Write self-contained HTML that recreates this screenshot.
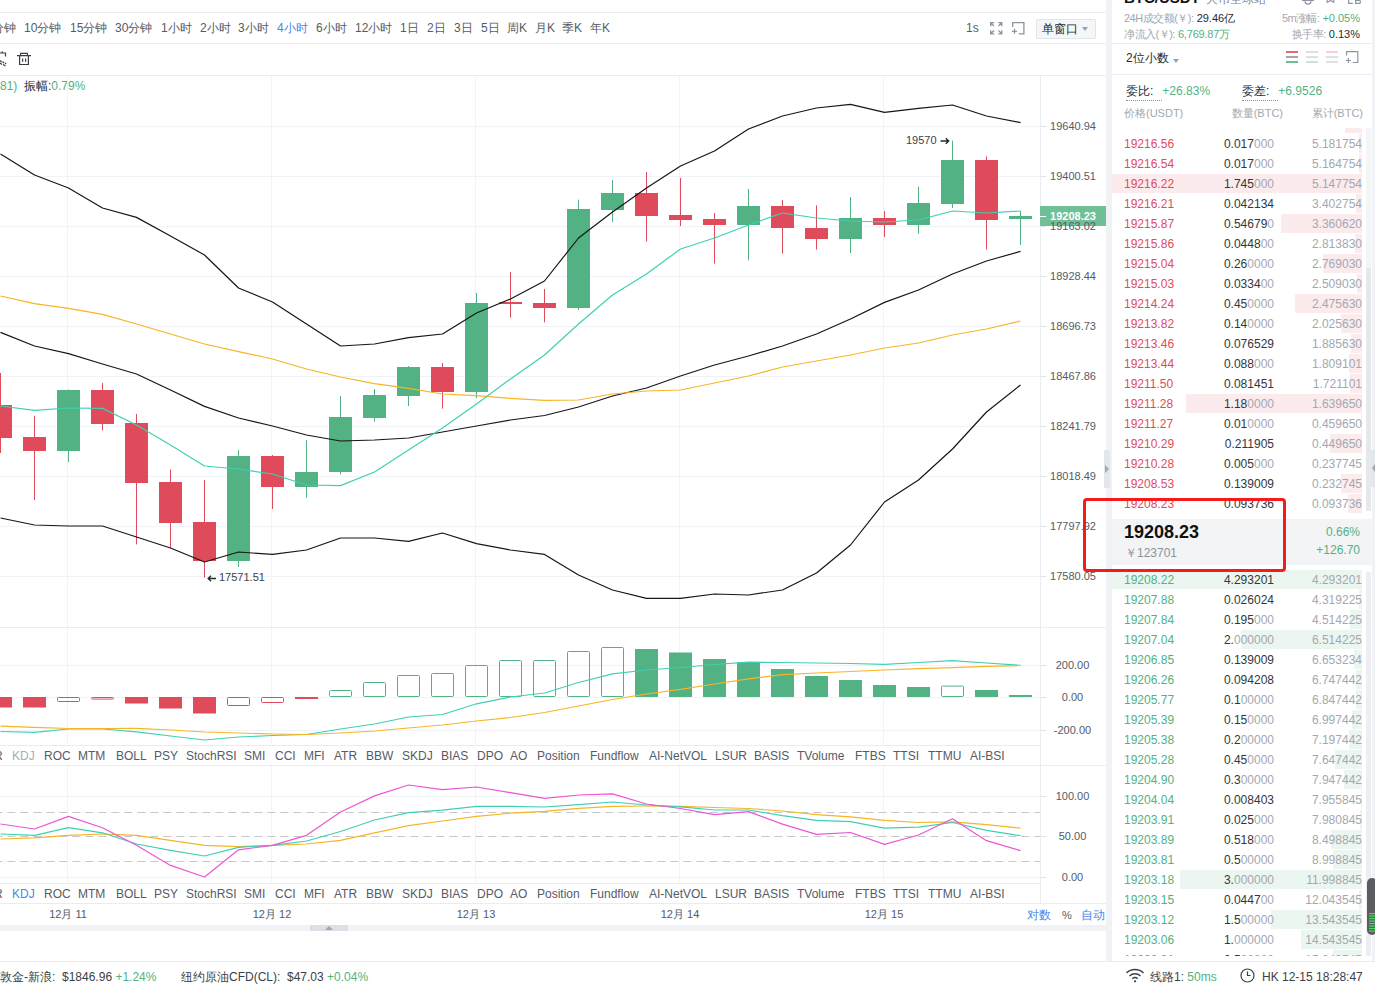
<!DOCTYPE html>
<html><head><meta charset="utf-8"><style>
*{margin:0;padding:0;box-sizing:border-box}
html,body{width:1375px;height:989px;overflow:hidden;background:#fff;font-family:'Liberation Sans', sans-serif;color:#333}
.abs{position:absolute}
.hl{position:absolute;height:1px;background:#e9ecf0}
.vl{position:absolute;width:1px;background:#e9ecf0}
.t{position:absolute;font-size:12px;line-height:14px;color:#555b66;white-space:nowrap}
.tab{position:absolute;font-size:12px;line-height:14px;color:#555b66;white-space:nowrap}
.yl{position:absolute;left:1050px;width:46px;text-align:right;font-size:11px;line-height:14px;color:#555b66}
.yl2{position:absolute;left:1047px;width:51px;text-align:center;font-size:11px;line-height:14px;color:#555b66}
.tick{position:absolute;left:1041px;width:5px;height:1px;background:#dfe2e6}
.dl{position:absolute;top:907px;width:80px;text-align:center;font-size:11px;line-height:14px;color:#555b66}
.row{position:absolute;left:1112px;width:260px;height:20px;font-size:12px;line-height:22px}
.row span{position:absolute;top:0}
.pr{left:12px}
.red{color:#e04b5b} .grn{color:#52b283}
.qt{right:98px;color:#33373d}
.qt i{font-style:normal;color:#a3a8b0}
.cu{right:10px;color:#a3a8b0}
.bar{position:absolute;right:13px;height:19px}
.ba{background:#fcebed}
.bb{background:#ebf6f0}
</style></head><body>
<!-- left chart -->
<div class="hl" style="left:0;top:12px;width:1106px"></div>
<div class="t" style="left:-8px;top:21px;">分钟</div>
<div class="t" style="left:24px;top:21px;">10分钟</div>
<div class="t" style="left:70px;top:21px;">15分钟</div>
<div class="t" style="left:115px;top:21px;">30分钟</div>
<div class="t" style="left:161px;top:21px;">1小时</div>
<div class="t" style="left:200px;top:21px;">2小时</div>
<div class="t" style="left:238px;top:21px;">3小时</div>
<div class="t" style="left:277px;top:21px;color:#4a88e8;">4小时</div>
<div class="t" style="left:316px;top:21px;">6小时</div>
<div class="t" style="left:355px;top:21px;">12小时</div>
<div class="t" style="left:400px;top:21px;">1日</div>
<div class="t" style="left:427px;top:21px;">2日</div>
<div class="t" style="left:454px;top:21px;">3日</div>
<div class="t" style="left:481px;top:21px;">5日</div>
<div class="t" style="left:507px;top:21px;">周K</div>
<div class="t" style="left:535px;top:21px;">月K</div>
<div class="t" style="left:562px;top:21px;">季K</div>
<div class="t" style="left:590px;top:21px;">年K</div>
<div class="t" style="left:966px;top:21px">1s</div>
<svg class="abs" style="left:990px;top:22px" width="13" height="13" viewBox="0 0 13 13" fill="none" stroke="#8d95a3" stroke-width="1.3"><path d="M0.7 4.2V0.7h3.5M0.7 0.7l3.3 3.3M8.3 0.7h3.5v3.5M11.8 0.7l-3.3 3.3M0.7 8.3v3.5h3.5M0.7 11.8l3.3-3.3M8.3 11.8h3.5V8.3M11.8 11.8l-3.3-3.3"/></svg>
<svg class="abs" style="left:1012px;top:22px" width="14" height="14" viewBox="0 0 14 14" fill="none" stroke="#8d95a3" stroke-width="1.3"><path d="M0.7 5V0.7h11.2v11.2H6.8M0 9.3h5M2.5 6.8v5"/></svg>
<div class="abs" style="left:1036px;top:19px;width:60px;height:20px;border:1px solid #e1e4e8;background:#f5f6f8;border-radius:2px"></div>
<div class="t" style="left:1042px;top:22px;color:#262a30">单窗口</div>
<div class="abs" style="left:1082px;top:27px;width:0;height:0;border-left:3.5px solid transparent;border-right:3.5px solid transparent;border-top:4px solid #9aa0a8"></div>
<div class="hl" style="left:0;top:43px;width:1106px"></div>
<svg class="abs" style="left:0;top:50px" width="8" height="17" viewBox="0 0 8 17" fill="none" stroke="#3a3f47" stroke-width="1.2"><path d="M0 3h5.5v3.5M2.2 1.2v2M0 10.5l1.5 1.5M0 13l2 1.5M2.5 11.5l1.5 1.5M3 14.5l2.5 1.5M5 13l1 1"/></svg>
<svg class="abs" style="left:16px;top:52px" width="16" height="16" viewBox="0 0 16 16" fill="none" stroke="#3a3f47" stroke-width="1.2"><path d="M1 3.6h14M4.6 3.6V1.3h6.8v2.3M3.6 3.6v8.9h8.8V3.6M6.6 6.5v3.3M9.6 6.5v3.3"/></svg>
<div class="hl" style="left:0;top:75px;width:1106px"></div>
<div class="t" style="left:0;top:79px;color:#262a30"><span style="color:#52b283">81)</span>&nbsp; 振幅:<span style="color:#52b283">0.79%</span></div>

<svg class="abs" style="left:0;top:0" width="1106" height="989">
<rect x="0" y="126" width="1040" height="1" fill="#f0f3f7"/>
<rect x="0" y="176" width="1040" height="1" fill="#f0f3f7"/>
<rect x="0" y="226" width="1040" height="1" fill="#f0f3f7"/>
<rect x="0" y="276" width="1040" height="1" fill="#f0f3f7"/>
<rect x="0" y="326" width="1040" height="1" fill="#f0f3f7"/>
<rect x="0" y="376" width="1040" height="1" fill="#f0f3f7"/>
<rect x="0" y="426" width="1040" height="1" fill="#f0f3f7"/>
<rect x="0" y="476" width="1040" height="1" fill="#f0f3f7"/>
<rect x="0" y="526" width="1040" height="1" fill="#f0f3f7"/>
<rect x="0" y="576" width="1040" height="1" fill="#f0f3f7"/>
<rect x="67" y="76" width="1" height="551" fill="#f0f3f7"/>
<rect x="67" y="628" width="1" height="116" fill="#f0f3f7"/>
<rect x="67" y="765" width="1" height="117" fill="#f0f3f7"/>
<rect x="271" y="76" width="1" height="551" fill="#f0f3f7"/>
<rect x="271" y="628" width="1" height="116" fill="#f0f3f7"/>
<rect x="271" y="765" width="1" height="117" fill="#f0f3f7"/>
<rect x="475" y="76" width="1" height="551" fill="#f0f3f7"/>
<rect x="475" y="628" width="1" height="116" fill="#f0f3f7"/>
<rect x="475" y="765" width="1" height="117" fill="#f0f3f7"/>
<rect x="679" y="76" width="1" height="551" fill="#f0f3f7"/>
<rect x="679" y="628" width="1" height="116" fill="#f0f3f7"/>
<rect x="679" y="765" width="1" height="117" fill="#f0f3f7"/>
<rect x="883" y="76" width="1" height="551" fill="#f0f3f7"/>
<rect x="883" y="628" width="1" height="116" fill="#f0f3f7"/>
<rect x="883" y="765" width="1" height="117" fill="#f0f3f7"/>
<rect x="0" y="665" width="1040" height="1" fill="#f0f3f7"/>
<rect x="0" y="697" width="1040" height="1" fill="#f0f3f7"/>
<rect x="0" y="730" width="1040" height="1" fill="#f0f3f7"/>
<rect x="0" y="796" width="1040" height="1" fill="#f0f3f7"/>
<rect x="0" y="877" width="1040" height="1" fill="#f0f3f7"/>
<line x1="0" y1="812.5" x2="1040" y2="812.5" stroke="#c6c8cb" stroke-width="1" stroke-dasharray="8,5" stroke-dashoffset="5.6"/>
<line x1="0" y1="836.5" x2="1040" y2="836.5" stroke="#c6c8cb" stroke-width="1" stroke-dasharray="8,5" stroke-dashoffset="5.6"/>
<line x1="0" y1="861.5" x2="1040" y2="861.5" stroke="#c6c8cb" stroke-width="1" stroke-dasharray="8,5" stroke-dashoffset="5.6"/>
<rect x="0" y="373.0" width="1" height="80.0" fill="#e04b5b"/>
<rect x="-11" y="405" width="23" height="33" fill="#e04b5b"/>
<rect x="34" y="415.8" width="1" height="84.2" fill="#e04b5b"/>
<rect x="23" y="437" width="23" height="14" fill="#e04b5b"/>
<rect x="68" y="389.4" width="1" height="72.6" fill="#52b283"/>
<rect x="57" y="390" width="23" height="61" fill="#52b283"/>
<rect x="102" y="383.0" width="1" height="47.4" fill="#e04b5b"/>
<rect x="91" y="390" width="23" height="34" fill="#e04b5b"/>
<rect x="136" y="414.0" width="1" height="130.4" fill="#e04b5b"/>
<rect x="125" y="423" width="23" height="60" fill="#e04b5b"/>
<rect x="170" y="469.6" width="1" height="78.4" fill="#e04b5b"/>
<rect x="159" y="482" width="23" height="41" fill="#e04b5b"/>
<rect x="204" y="480.0" width="1" height="97.6" fill="#e04b5b"/>
<rect x="193" y="522" width="23" height="39" fill="#e04b5b"/>
<rect x="238" y="450.0" width="1" height="117.0" fill="#52b283"/>
<rect x="227" y="456" width="23" height="105" fill="#52b283"/>
<rect x="272" y="455.0" width="1" height="54.0" fill="#e04b5b"/>
<rect x="261" y="456" width="23" height="31" fill="#e04b5b"/>
<rect x="306" y="440.0" width="1" height="57.6" fill="#52b283"/>
<rect x="295" y="472" width="23" height="15" fill="#52b283"/>
<rect x="340" y="396.0" width="1" height="78.4" fill="#52b283"/>
<rect x="329" y="417" width="23" height="55" fill="#52b283"/>
<rect x="374" y="389.0" width="1" height="32.6" fill="#52b283"/>
<rect x="363" y="395" width="23" height="23" fill="#52b283"/>
<rect x="408" y="366.0" width="1" height="40.0" fill="#52b283"/>
<rect x="397" y="367" width="23" height="29" fill="#52b283"/>
<rect x="442" y="363.0" width="1" height="45.6" fill="#e04b5b"/>
<rect x="431" y="367" width="23" height="25" fill="#e04b5b"/>
<rect x="476" y="293.0" width="1" height="105.0" fill="#52b283"/>
<rect x="465" y="303" width="23" height="89" fill="#52b283"/>
<rect x="510" y="272.0" width="1" height="45.6" fill="#e04b5b"/>
<rect x="499" y="302" width="23" height="2" fill="#e04b5b"/>
<rect x="544" y="289.0" width="1" height="33.4" fill="#e04b5b"/>
<rect x="533" y="303" width="23" height="5" fill="#e04b5b"/>
<rect x="578" y="199.6" width="1" height="110.4" fill="#52b283"/>
<rect x="567" y="209" width="23" height="99" fill="#52b283"/>
<rect x="612" y="180.0" width="1" height="42.0" fill="#52b283"/>
<rect x="601" y="193" width="23" height="17" fill="#52b283"/>
<rect x="646" y="172.0" width="1" height="69.6" fill="#e04b5b"/>
<rect x="635" y="193" width="23" height="23" fill="#e04b5b"/>
<rect x="680" y="178.0" width="1" height="48.0" fill="#e04b5b"/>
<rect x="669" y="215" width="23" height="5" fill="#e04b5b"/>
<rect x="714" y="213.0" width="1" height="50.6" fill="#e04b5b"/>
<rect x="703" y="219" width="23" height="6" fill="#e04b5b"/>
<rect x="748" y="189.0" width="1" height="71.4" fill="#52b283"/>
<rect x="737" y="206" width="23" height="19" fill="#52b283"/>
<rect x="782" y="200.0" width="1" height="53.6" fill="#e04b5b"/>
<rect x="771" y="206" width="23" height="22" fill="#e04b5b"/>
<rect x="816" y="205.4" width="1" height="44.2" fill="#e04b5b"/>
<rect x="805" y="228" width="23" height="11" fill="#e04b5b"/>
<rect x="850" y="197.0" width="1" height="56.0" fill="#52b283"/>
<rect x="839" y="218" width="23" height="21" fill="#52b283"/>
<rect x="884" y="211.0" width="1" height="26.0" fill="#e04b5b"/>
<rect x="873" y="218" width="23" height="7" fill="#e04b5b"/>
<rect x="918" y="186.6" width="1" height="47.0" fill="#52b283"/>
<rect x="907" y="203" width="23" height="22" fill="#52b283"/>
<rect x="952" y="140.6" width="1" height="67.4" fill="#52b283"/>
<rect x="941" y="160" width="23" height="44" fill="#52b283"/>
<rect x="986" y="156.4" width="1" height="93.2" fill="#e04b5b"/>
<rect x="975" y="160" width="23" height="60" fill="#e04b5b"/>
<rect x="1020" y="211.0" width="1" height="34.0" fill="#52b283"/>
<rect x="1009" y="216" width="23" height="3" fill="#52b283"/>
<polyline points="0.5,518.0 34.5,525.0 68.5,526.0 102.5,526.0 136.5,537.0 170.5,548.0 204.5,562.0 238.5,552.0 272.5,554.4 306.5,550.0 340.5,538.0 374.5,538.0 408.5,541.4 442.5,533.0 476.5,543.6 510.5,550.0 544.5,554.4 578.5,575.0 612.5,590.0 646.5,598.4 680.5,598.4 714.5,594.0 748.5,595.0 782.5,590.0 816.5,573.0 850.5,545.0 884.5,502.0 918.5,480.0 952.5,449.0 986.5,412.0 1020.5,385.0" fill="none" stroke="#161616" stroke-width="1.2" stroke-linejoin="round"/>
<polyline points="0.5,332.4 34.5,346.0 68.5,353.6 102.5,364.0 136.5,374.0 170.5,390.0 204.5,406.4 238.5,418.0 272.5,426.0 306.5,435.0 340.5,441.0 374.5,440.0 408.5,438.0 442.5,432.0 476.5,426.0 510.5,420.0 544.5,415.5 578.5,407.0 612.5,396.0 646.5,388.0 680.5,376.0 714.5,365.0 748.5,356.0 782.5,346.0 816.5,334.0 850.5,319.0 884.5,302.4 918.5,290.0 952.5,274.0 986.5,261.0 1020.5,251.4" fill="none" stroke="#161616" stroke-width="1.2" stroke-linejoin="round"/>
<polyline points="0.5,154.0 34.5,175.0 68.5,188.0 102.5,208.0 136.5,217.4 170.5,236.0 204.5,255.0 238.5,288.0 272.5,302.0 306.5,324.0 340.5,346.0 374.5,344.0 408.5,337.6 442.5,334.0 476.5,313.0 510.5,299.0 544.5,281.0 578.5,238.0 612.5,212.0 646.5,188.0 680.5,166.0 714.5,151.0 748.5,129.0 782.5,116.0 816.5,108.0 850.5,104.4 884.5,112.4 918.5,108.4 952.5,105.0 986.5,116.0 1020.5,122.6" fill="none" stroke="#161616" stroke-width="1.2" stroke-linejoin="round"/>
<polyline points="0.5,296.0 34.5,303.6 68.5,308.4 102.5,314.4 136.5,324.0 170.5,334.0 204.5,344.0 238.5,351.6 272.5,359.0 306.5,369.0 340.5,377.0 374.5,383.6 408.5,388.4 442.5,394.0 476.5,395.6 510.5,398.4 544.5,400.4 578.5,400.0 612.5,394.0 646.5,391.0 680.5,390.0 714.5,383.0 748.5,376.0 782.5,367.0 816.5,361.0 850.5,355.0 884.5,348.0 918.5,343.0 952.5,335.0 986.5,329.0 1020.5,321.0" fill="none" stroke="#f7b526" stroke-width="1.2" stroke-linejoin="round"/>
<polyline points="0.5,406.0 34.5,410.4 68.5,408.0 102.5,408.4 136.5,425.0 170.5,445.0 204.5,466.0 238.5,469.0 272.5,474.0 306.5,485.0 340.5,485.6 374.5,472.0 408.5,450.0 442.5,428.0 476.5,404.0 510.5,379.0 544.5,355.0 578.5,324.0 612.5,295.0 646.5,274.0 680.5,249.0 714.5,238.0 748.5,225.0 782.5,213.0 816.5,218.0 850.5,221.0 884.5,222.0 918.5,220.0 952.5,211.0 986.5,213.0 1020.5,211.0" fill="none" stroke="#3fd0b3" stroke-width="1.2" stroke-linejoin="round"/>
<rect x="-11" y="697.0" width="23" height="10.5" fill="#e04b5b"/>
<rect x="23" y="697.0" width="23" height="10.5" fill="#e04b5b"/>
<rect x="57.5" y="697.5" width="22" height="4.0" rx="1" fill="none" stroke="#e04b5b" stroke-width="1"/>
<rect x="91.5" y="697.5" width="22" height="1.6" rx="1" fill="none" stroke="#e04b5b" stroke-width="1"/>
<rect x="125" y="697.0" width="23" height="6.5" fill="#e04b5b"/>
<rect x="159" y="697.0" width="23" height="11.5" fill="#e04b5b"/>
<rect x="193" y="697.0" width="23" height="16.5" fill="#e04b5b"/>
<rect x="227.5" y="697.5" width="22" height="8.0" rx="1" fill="none" stroke="#e04b5b" stroke-width="1"/>
<rect x="261.5" y="697.5" width="22" height="5.0" rx="1" fill="none" stroke="#e04b5b" stroke-width="1"/>
<rect x="295" y="697.0" width="23" height="2.0" fill="#e04b5b"/>
<rect x="329.5" y="690.5" width="22" height="6.0" rx="1" fill="none" stroke="#52b283" stroke-width="1"/>
<rect x="363.5" y="682.5" width="22" height="14.0" rx="1" fill="none" stroke="#52b283" stroke-width="1"/>
<rect x="397.5" y="675.5" width="22" height="21.0" rx="1" fill="none" stroke="#52b283" stroke-width="1"/>
<rect x="431.5" y="673.5" width="22" height="23.0" rx="1" fill="none" stroke="#52b283" stroke-width="1"/>
<rect x="465.5" y="665.5" width="22" height="31.0" rx="1" fill="none" stroke="#52b283" stroke-width="1"/>
<rect x="499.5" y="660.5" width="22" height="36.0" rx="1" fill="none" stroke="#52b283" stroke-width="1"/>
<rect x="533.5" y="660.5" width="22" height="36.0" rx="1" fill="none" stroke="#52b283" stroke-width="1"/>
<rect x="567.5" y="651.5" width="22" height="45.0" rx="1" fill="none" stroke="#52b283" stroke-width="1"/>
<rect x="601.5" y="647.5" width="22" height="49.0" rx="1" fill="none" stroke="#52b283" stroke-width="1"/>
<rect x="635" y="649.0" width="23" height="48.0" fill="#52b283"/>
<rect x="669" y="652.5" width="23" height="44.5" fill="#52b283"/>
<rect x="703" y="659.0" width="23" height="38.0" fill="#52b283"/>
<rect x="737" y="662.0" width="23" height="35.0" fill="#52b283"/>
<rect x="771" y="669.0" width="23" height="28.0" fill="#52b283"/>
<rect x="805" y="676.0" width="23" height="21.0" fill="#52b283"/>
<rect x="839" y="680.0" width="23" height="17.0" fill="#52b283"/>
<rect x="873" y="685.0" width="23" height="12.0" fill="#52b283"/>
<rect x="907" y="687.0" width="23" height="10.0" fill="#52b283"/>
<rect x="941.5" y="686.1" width="22" height="10.4" rx="1" fill="none" stroke="#52b283" stroke-width="1"/>
<rect x="975" y="690.0" width="23" height="7.0" fill="#52b283"/>
<rect x="1009" y="695.0" width="23" height="2.0" fill="#52b283"/>
<polyline points="0.5,731.5 34.5,732.4 68.5,729.0 102.5,729.0 136.5,731.8 170.5,736.0 204.5,740.0 238.5,737.0 272.5,735.5 306.5,734.5 340.5,729.0 374.5,724.0 408.5,717.0 442.5,714.5 476.5,703.8 510.5,697.0 544.5,693.0 578.5,682.5 612.5,673.8 646.5,670.0 680.5,667.5 714.5,664.5 748.5,662.2 782.5,662.5 816.5,663.0 850.5,663.5 884.5,664.4 918.5,662.5 952.5,660.6 986.5,663.0 1020.5,665.3" fill="none" stroke="#3fd0b3" stroke-width="1.2" stroke-linejoin="round"/>
<polyline points="0.5,726.2 34.5,727.3 68.5,728.5 102.5,728.5 136.5,728.3 170.5,730.0 204.5,732.0 238.5,733.0 272.5,734.0 306.5,734.5 340.5,733.0 374.5,731.0 408.5,728.0 442.5,725.0 476.5,721.0 510.5,717.5 544.5,712.5 578.5,706.0 612.5,699.5 646.5,694.0 680.5,689.4 714.5,684.0 748.5,678.8 782.5,674.7 816.5,673.0 850.5,671.5 884.5,670.0 918.5,668.7 952.5,667.6 986.5,666.4 1020.5,665.5" fill="none" stroke="#f7b526" stroke-width="1.2" stroke-linejoin="round"/>
<polyline points="0.5,839.0 34.5,837.8 68.5,835.3 102.5,834.0 136.5,835.3 170.5,840.3 204.5,845.3 238.5,846.6 272.5,845.3 306.5,844.0 340.5,840.3 374.5,832.8 408.5,825.7 442.5,821.0 476.5,816.4 510.5,813.2 544.5,811.4 578.5,808.4 612.5,806.4 646.5,806.0 680.5,806.3 714.5,807.5 748.5,808.5 782.5,811.0 816.5,814.7 850.5,816.9 884.5,820.4 918.5,822.5 952.5,821.9 986.5,824.7 1020.5,828.2" fill="none" stroke="#f7b526" stroke-width="1.2" stroke-linejoin="round"/>
<polyline points="0.5,834.0 34.5,835.3 68.5,827.7 102.5,832.8 136.5,844.0 170.5,850.3 204.5,856.0 238.5,847.3 272.5,845.3 306.5,841.0 340.5,831.5 374.5,820.0 408.5,812.7 442.5,810.2 476.5,806.4 510.5,806.4 544.5,807.0 578.5,804.6 612.5,802.0 646.5,805.0 680.5,806.9 714.5,810.0 748.5,810.0 782.5,815.7 816.5,820.3 850.5,821.6 884.5,828.2 918.5,827.2 952.5,822.5 986.5,830.4 1020.5,835.7" fill="none" stroke="#3fd0b3" stroke-width="1.2" stroke-linejoin="round"/>
<polyline points="0.5,824.0 34.5,829.0 68.5,816.4 102.5,827.7 136.5,845.3 170.5,865.4 204.5,877.0 238.5,849.8 272.5,845.3 306.5,835.3 340.5,812.0 374.5,795.9 408.5,785.0 442.5,789.6 476.5,787.0 510.5,792.6 544.5,798.4 578.5,795.0 612.5,793.9 646.5,804.0 680.5,808.5 714.5,814.7 748.5,811.6 782.5,824.1 816.5,834.4 850.5,832.5 884.5,844.4 918.5,835.0 952.5,818.8 986.5,840.7 1020.5,850.7" fill="none" stroke="#ec55d3" stroke-width="1.2" stroke-linejoin="round"/>
</svg>
<!-- annotations -->
<div class="abs" style="left:219px;top:570px;font-size:11px;line-height:14px;color:#3d4249;white-space:nowrap">17571.51</div>
<svg class="abs" style="left:207px;top:575px" width="10" height="8" viewBox="0 0 10 8" fill="none" stroke="#23272e" stroke-width="1.4"><path d="M1 3.5h8M4 0.8L1.2 3.5L4 6.2"/></svg>
<div class="abs" style="left:906px;top:133px;font-size:11px;line-height:14px;color:#3d4249;white-space:nowrap">19570</div>
<svg class="abs" style="left:940px;top:137px" width="10" height="8" viewBox="0 0 10 8" fill="none" stroke="#23272e" stroke-width="1.4"><path d="M0.5 4h8M5.8 1.3L8.6 4L5.8 6.7"/></svg>

<div class="vl" style="left:1040px;top:76px;height:827px"></div>
<div class="abs" style="left:1040px;top:206px;width:66px;height:20px;background:#6fbf97"></div>
<div class="abs" style="left:1040px;top:216px;width:6px;height:1px;background:#fff"></div>
<div class="abs" style="z-index:2;left:1040px;top:209px;width:66px;text-align:right;padding-right:10px;font-size:11px;line-height:14px;color:#fff;font-weight:bold">19208.23</div>
<div class="yl" style="top:119px">19640.94</div><div class="tick" style="top:126px"></div>
<div class="yl" style="top:169px">19400.51</div><div class="tick" style="top:176px"></div>
<div class="yl" style="top:219px">19163.02</div><div class="tick" style="top:226px"></div>
<div class="yl" style="top:269px">18928.44</div><div class="tick" style="top:276px"></div>
<div class="yl" style="top:319px">18696.73</div><div class="tick" style="top:326px"></div>
<div class="yl" style="top:369px">18467.86</div><div class="tick" style="top:376px"></div>
<div class="yl" style="top:419px">18241.79</div><div class="tick" style="top:426px"></div>
<div class="yl" style="top:469px">18018.49</div><div class="tick" style="top:476px"></div>
<div class="yl" style="top:519px">17797.92</div><div class="tick" style="top:526px"></div>
<div class="yl" style="top:569px">17580.05</div><div class="tick" style="top:576px"></div>

<div class="hl" style="left:0;top:627px;width:1106px"></div>
<div class="yl2" style="top:658px">200.00</div><div class="tick" style="top:665px"></div>
<div class="yl2" style="top:690px">0.00</div><div class="tick" style="top:697px"></div>
<div class="yl2" style="top:723px">-200.00</div><div class="tick" style="top:730px"></div>
<div class="hl" style="left:0;top:745px;width:1040px"></div>
<div class="tab" style="left:-6px;top:749px;">R</div>
<div class="tab" style="left:12px;top:749px;color:#a8adb5;">KDJ</div>
<div class="tab" style="left:44px;top:749px;">ROC</div>
<div class="tab" style="left:78px;top:749px;">MTM</div>
<div class="tab" style="left:116px;top:749px;">BOLL</div>
<div class="tab" style="left:154px;top:749px;">PSY</div>
<div class="tab" style="left:186px;top:749px;">StochRSI</div>
<div class="tab" style="left:244px;top:749px;">SMI</div>
<div class="tab" style="left:275px;top:749px;">CCI</div>
<div class="tab" style="left:304px;top:749px;">MFI</div>
<div class="tab" style="left:334px;top:749px;">ATR</div>
<div class="tab" style="left:366px;top:749px;">BBW</div>
<div class="tab" style="left:402px;top:749px;">SKDJ</div>
<div class="tab" style="left:441px;top:749px;">BIAS</div>
<div class="tab" style="left:477px;top:749px;">DPO</div>
<div class="tab" style="left:510px;top:749px;">AO</div>
<div class="tab" style="left:537px;top:749px;">Position</div>
<div class="tab" style="left:590px;top:749px;">Fundflow</div>
<div class="tab" style="left:649px;top:749px;">AI-NetVOL</div>
<div class="tab" style="left:715px;top:749px;">LSUR</div>
<div class="tab" style="left:754px;top:749px;">BASIS</div>
<div class="tab" style="left:797px;top:749px;">TVolume</div>
<div class="tab" style="left:855px;top:749px;">FTBS</div>
<div class="tab" style="left:893px;top:749px;">TTSI</div>
<div class="tab" style="left:928px;top:749px;">TTMU</div>
<div class="tab" style="left:970px;top:749px;">AI-BSI</div>
<div class="hl" style="left:0;top:765px;width:1106px"></div>
<div class="yl2" style="top:789px">100.00</div><div class="tick" style="top:796px"></div>
<div class="yl2" style="top:829px">50.00</div><div class="tick" style="top:836px"></div>
<div class="yl2" style="top:870px">0.00</div><div class="tick" style="top:877px"></div>
<div class="hl" style="left:0;top:883px;width:1040px"></div>
<div class="tab" style="left:-6px;top:887px;">R</div>
<div class="tab" style="left:12px;top:887px;color:#4a88e8;">KDJ</div>
<div class="tab" style="left:44px;top:887px;">ROC</div>
<div class="tab" style="left:78px;top:887px;">MTM</div>
<div class="tab" style="left:116px;top:887px;">BOLL</div>
<div class="tab" style="left:154px;top:887px;">PSY</div>
<div class="tab" style="left:186px;top:887px;">StochRSI</div>
<div class="tab" style="left:244px;top:887px;">SMI</div>
<div class="tab" style="left:275px;top:887px;">CCI</div>
<div class="tab" style="left:304px;top:887px;">MFI</div>
<div class="tab" style="left:334px;top:887px;">ATR</div>
<div class="tab" style="left:366px;top:887px;">BBW</div>
<div class="tab" style="left:402px;top:887px;">SKDJ</div>
<div class="tab" style="left:441px;top:887px;">BIAS</div>
<div class="tab" style="left:477px;top:887px;">DPO</div>
<div class="tab" style="left:510px;top:887px;">AO</div>
<div class="tab" style="left:537px;top:887px;">Position</div>
<div class="tab" style="left:590px;top:887px;">Fundflow</div>
<div class="tab" style="left:649px;top:887px;">AI-NetVOL</div>
<div class="tab" style="left:715px;top:887px;">LSUR</div>
<div class="tab" style="left:754px;top:887px;">BASIS</div>
<div class="tab" style="left:797px;top:887px;">TVolume</div>
<div class="tab" style="left:855px;top:887px;">FTBS</div>
<div class="tab" style="left:893px;top:887px;">TTSI</div>
<div class="tab" style="left:928px;top:887px;">TTMU</div>
<div class="tab" style="left:970px;top:887px;">AI-BSI</div>
<div class="hl" style="left:0;top:903px;width:1106px"></div>
<div class="dl" style="left:28px">12月 11</div>
<div class="dl" style="left:232px">12月 12</div>
<div class="dl" style="left:436px">12月 13</div>
<div class="dl" style="left:640px">12月 14</div>
<div class="dl" style="left:844px">12月 15</div>
<div class="abs" style="left:1027px;top:908px;font-size:12px;line-height:14px;color:#4a88e8;white-space:nowrap">对数</div>
<div class="abs" style="left:1062px;top:908px;font-size:11px;line-height:14px;color:#555b66;white-space:nowrap">%</div>
<div class="abs" style="left:1081px;top:908px;font-size:12px;line-height:14px;color:#4a88e8;white-space:nowrap">自动</div>
<div class="abs" style="left:0;top:925px;width:1106px;height:6px;background:#f0f2f5"></div>
<div class="abs" style="left:310px;top:925px;width:38px;height:6px;background:#dcdfe4"></div>
<div class="abs" style="left:325px;top:926px;width:0;height:0;border-left:4px solid transparent;border-right:4px solid transparent;border-bottom:4px solid #a2a7b0"></div>
<div class="hl" style="left:0;top:961px;width:1375px"></div>
<div class="abs" style="left:0;top:970px;font-size:12px;line-height:14px;color:#3a3f47;white-space:nowrap">敦金-新浪: &nbsp;$1846.96 <span style="color:#52b283">+1.24%</span></div>
<div class="abs" style="left:181px;top:970px;font-size:12px;line-height:14px;color:#3a3f47;white-space:nowrap">纽约原油CFD(CL): &nbsp;$47.03 <span style="color:#52b283">+0.04%</span></div>

<!-- divider strip -->
<div class="abs" style="left:1106px;top:0;width:6px;height:961px;background:#f0f2f5"></div>
<div class="abs" style="left:1372px;top:0;width:3px;height:961px;background:#f0f2f5"></div>

<!-- right panel -->
<div class="abs" style="left:1124px;top:-10px;font-size:15px;line-height:15px;font-weight:bold;color:#111;white-space:nowrap">BTC/USDT <span style="font-weight:normal;color:#7d8799;font-size:12px;margin-left:2px">火币全球站</span></div>
<svg class="abs" style="left:1300px;top:0" width="62" height="6" viewBox="0 0 62 6" fill="none" stroke="#8d95a3" stroke-width="1.2"><path d="M2 0.4h12M5 1.2a3 3 0 0 0 6 0M27.2 -2v4.3l3.3-1.8l3.3 1.8V-2M48.6 -2v5.4h4.2M55.6 -2v5.4h3.4a1.5 1.5 0 0 0 0-3h-3.4"/></svg>
<div class="abs" style="left:1124px;top:11px;font-size:11px;line-height:14px;color:#a3a8b0;white-space:nowrap"><span style="letter-spacing:-0.5px">24H成交额(￥):</span> <span style="color:#262a30">29.46亿</span></div>
<div class="abs" style="left:1124px;top:27px;font-size:11px;line-height:14px;color:#a3a8b0;white-space:nowrap"><span style="letter-spacing:-0.5px">净流入(￥):</span> <span style="color:#52b283;letter-spacing:-0.2px">6,769.87万</span></div>
<div class="abs" style="left:1160px;top:11px;width:200px;text-align:right;font-size:11px;line-height:14px;color:#a3a8b0;white-space:nowrap"><span style="letter-spacing:-0.6px">5m涨幅:</span> <span style="color:#52b283">+0.05%</span></div>
<div class="abs" style="left:1160px;top:27px;width:200px;text-align:right;font-size:11px;line-height:14px;color:#a3a8b0;white-space:nowrap"><span style="letter-spacing:-0.6px">换手率:</span> <span style="color:#262a30">0.13%</span></div>
<div class="hl" style="left:1112px;top:43px;width:260px"></div>
<div class="abs" style="left:1126px;top:51px;font-size:12px;line-height:14px;color:#262a30;white-space:nowrap">2位小数</div>
<div class="abs" style="left:1173px;top:59px;width:0;height:0;border-left:3.5px solid transparent;border-right:3.5px solid transparent;border-top:4px solid #9aa0a8"></div>
<svg class="abs" style="left:1284px;top:49px" width="78" height="16">
<rect x="2" y="2" width="12" height="2" fill="#e86a78"/><rect x="2" y="7" width="12" height="2" fill="#a3a8b0"/><rect x="2" y="12" width="12" height="2" fill="#6cc093"/>
<rect x="22" y="2" width="12" height="2" fill="#dde0e4"/><rect x="22" y="7" width="12" height="2" fill="#dde0e4"/><rect x="22" y="12" width="12" height="2" fill="#c6e6d4"/>
<rect x="42" y="2" width="12" height="2" fill="#f7d0d5"/><rect x="42" y="7" width="12" height="2" fill="#dde0e4"/><rect x="42" y="12" width="12" height="2" fill="#dde0e4"/>
<path d="M62.6 6.6V2.6h11.2v10.9h-4.9M61.9 11.5h5M64.4 9v5" stroke="#8d95a3" stroke-width="1.2" fill="none"/>
</svg>
<div class="hl" style="left:1112px;top:74px;width:260px"></div>
<div class="abs" style="left:1126px;top:84px;font-size:12px;line-height:14px;color:#262a30;white-space:nowrap">委比:<span style="color:#52b283;margin-left:9px">+26.83%</span></div>
<div class="abs" style="left:1126px;top:100px;width:36px;border-top:1px dotted #8a9099"></div>
<div class="abs" style="left:1242px;top:84px;font-size:12px;line-height:14px;color:#262a30;white-space:nowrap">委差:<span style="color:#52b283;margin-left:9px">+6.9526</span></div>
<div class="abs" style="left:1242px;top:100px;width:36px;border-top:1px dotted #8a9099"></div>
<div class="abs" style="left:1124px;top:106px;font-size:11px;line-height:14px;color:#a3a8b0;white-space:nowrap">价格(USDT)</div>
<div class="abs" style="left:1200px;top:106px;width:83px;text-align:right;font-size:11px;line-height:14px;color:#a3a8b0;white-space:nowrap">数量(BTC)</div>
<div class="abs" style="left:1280px;top:106px;width:83px;text-align:right;font-size:11px;line-height:14px;color:#a3a8b0;white-space:nowrap">累计(BTC)</div>
<div class="abs" style="left:1345px;top:128px;width:17px;height:5px;background:#fcebed"></div>
<div class="abs" style="left:1112px;top:133px;width:260px;height:380px;overflow:hidden"><div class="abs" style="left:-1112px;top:-133px;width:1375px;height:989px">
<div class="bar ba" style="top:134px;width:3px"></div>
<div class="row" style="top:133px"><span class="pr red">19216.56</span><span class="qt">0.017<i>000</i></span><span class="cu">5.181754</span></div>
<div class="bar ba" style="top:154px;width:3px"></div>
<div class="row" style="top:153px"><span class="pr red">19216.54</span><span class="qt">0.017<i>000</i></span><span class="cu">5.164754</span></div>
<div class="bar ba" style="top:174px;width:250px"></div>
<div class="row" style="top:173px"><span class="pr red">19216.22</span><span class="qt">1.745<i>000</i></span><span class="cu">5.147754</span></div>
<div class="bar ba" style="top:194px;width:6px"></div>
<div class="row" style="top:193px"><span class="pr red">19216.21</span><span class="qt">0.042134<i></i></span><span class="cu">3.402754</span></div>
<div class="bar ba" style="top:214px;width:81px"></div>
<div class="row" style="top:213px"><span class="pr red">19215.87</span><span class="qt">0.54679<i>0</i></span><span class="cu">3.360620</span></div>
<div class="bar ba" style="top:234px;width:7px"></div>
<div class="row" style="top:233px"><span class="pr red">19215.86</span><span class="qt">0.0448<i>00</i></span><span class="cu">2.813830</span></div>
<div class="bar ba" style="top:254px;width:39px"></div>
<div class="row" style="top:253px"><span class="pr red">19215.04</span><span class="qt">0.26<i>0000</i></span><span class="cu">2.769030</span></div>
<div class="bar ba" style="top:274px;width:5px"></div>
<div class="row" style="top:273px"><span class="pr red">19215.03</span><span class="qt">0.0334<i>00</i></span><span class="cu">2.509030</span></div>
<div class="bar ba" style="top:294px;width:67px"></div>
<div class="row" style="top:293px"><span class="pr red">19214.24</span><span class="qt">0.45<i>0000</i></span><span class="cu">2.475630</span></div>
<div class="bar ba" style="top:314px;width:21px"></div>
<div class="row" style="top:313px"><span class="pr red">19213.82</span><span class="qt">0.14<i>0000</i></span><span class="cu">2.025630</span></div>
<div class="bar ba" style="top:334px;width:11px"></div>
<div class="row" style="top:333px"><span class="pr red">19213.46</span><span class="qt">0.076529<i></i></span><span class="cu">1.885630</span></div>
<div class="bar ba" style="top:354px;width:13px"></div>
<div class="row" style="top:353px"><span class="pr red">19213.44</span><span class="qt">0.088<i>000</i></span><span class="cu">1.809101</span></div>
<div class="bar ba" style="top:374px;width:12px"></div>
<div class="row" style="top:373px"><span class="pr red">19211.50</span><span class="qt">0.081451<i></i></span><span class="cu">1.721101</span></div>
<div class="bar ba" style="top:394px;width:176px"></div>
<div class="row" style="top:393px"><span class="pr red">19211.28</span><span class="qt">1.18<i>0000</i></span><span class="cu">1.639650</span></div>
<div class="bar ba" style="top:414px;width:1px"></div>
<div class="row" style="top:413px"><span class="pr red">19211.27</span><span class="qt">0.01<i>0000</i></span><span class="cu">0.459650</span></div>
<div class="bar ba" style="top:434px;width:32px"></div>
<div class="row" style="top:433px"><span class="pr red">19210.29</span><span class="qt">0.211905<i></i></span><span class="cu">0.449650</span></div>
<div class="bar ba" style="top:454px;width:0px"></div>
<div class="row" style="top:453px"><span class="pr red">19210.28</span><span class="qt">0.005<i>000</i></span><span class="cu">0.237745</span></div>
<div class="bar ba" style="top:474px;width:21px"></div>
<div class="row" style="top:473px"><span class="pr red">19208.53</span><span class="qt">0.139009<i></i></span><span class="cu">0.232745</span></div>
<div class="bar ba" style="top:494px;width:14px"></div>
<div class="row" style="top:493px"><span class="pr red">19208.23</span><span class="qt">0.093736<i></i></span><span class="cu">0.093736</span></div>

</div></div>
<div class="abs" style="left:1366px;top:128px;width:5px;height:140px;background:#f4f5f7"></div>
<div class="abs" style="left:1366px;top:268px;width:5px;height:243px;background:#e6e8eb"></div>
<div class="abs" style="left:1371px;top:450px;width:4px;height:37px;background:#e3e6ea"></div>
<div class="abs" style="left:1372px;top:464px;width:0;height:0;border-top:4px solid transparent;border-bottom:4px solid transparent;border-right:3px solid #a3a8b0"></div>
<div class="abs" style="left:1112px;top:519px;width:260px;height:46px;background:#f3f4f6"></div>
<div class="abs" style="left:1124px;top:522px;font-size:18px;line-height:20px;font-weight:bold;color:#111;white-space:nowrap">19208.23</div>
<div class="abs" style="left:1125px;top:546px;font-size:12px;line-height:14px;color:#8e939b;white-space:nowrap">￥123701</div>
<div class="abs" style="left:1260px;top:525px;width:100px;text-align:right;font-size:12px;line-height:14px;color:#52b283">0.66%</div>
<div class="abs" style="left:1260px;top:543px;width:100px;text-align:right;font-size:12px;line-height:14px;color:#52b283">+126.70</div>
<div class="abs" style="left:1112px;top:569px;width:260px;height:387px;overflow:hidden"><div class="abs" style="left:-1112px;top:-569px;width:1375px;height:989px">
<div class="bar bb" style="top:570px;width:250px"></div>
<div class="row" style="top:569px"><span class="pr grn">19208.22</span><span class="qt">4.293201<i></i></span><span class="cu">4.293201</span></div>
<div class="bar bb" style="top:590px;width:3px"></div>
<div class="row" style="top:589px"><span class="pr grn">19207.88</span><span class="qt">0.026024<i></i></span><span class="cu">4.319225</span></div>
<div class="bar bb" style="top:610px;width:12px"></div>
<div class="row" style="top:609px"><span class="pr grn">19207.84</span><span class="qt">0.195<i>000</i></span><span class="cu">4.514225</span></div>
<div class="bar bb" style="top:630px;width:121px"></div>
<div class="row" style="top:629px"><span class="pr grn">19207.04</span><span class="qt">2.<i>000000</i></span><span class="cu">6.514225</span></div>
<div class="bar bb" style="top:650px;width:8px"></div>
<div class="row" style="top:649px"><span class="pr grn">19206.85</span><span class="qt">0.139009<i></i></span><span class="cu">6.653234</span></div>
<div class="bar bb" style="top:670px;width:6px"></div>
<div class="row" style="top:669px"><span class="pr grn">19206.26</span><span class="qt">0.094208<i></i></span><span class="cu">6.747442</span></div>
<div class="bar bb" style="top:690px;width:6px"></div>
<div class="row" style="top:689px"><span class="pr grn">19205.77</span><span class="qt">0.1<i>00000</i></span><span class="cu">6.847442</span></div>
<div class="bar bb" style="top:710px;width:10px"></div>
<div class="row" style="top:709px"><span class="pr grn">19205.39</span><span class="qt">0.15<i>0000</i></span><span class="cu">6.997442</span></div>
<div class="bar bb" style="top:730px;width:13px"></div>
<div class="row" style="top:729px"><span class="pr grn">19205.38</span><span class="qt">0.2<i>00000</i></span><span class="cu">7.197442</span></div>
<div class="bar bb" style="top:750px;width:27px"></div>
<div class="row" style="top:749px"><span class="pr grn">19205.28</span><span class="qt">0.45<i>0000</i></span><span class="cu">7.647442</span></div>
<div class="bar bb" style="top:770px;width:18px"></div>
<div class="row" style="top:769px"><span class="pr grn">19204.90</span><span class="qt">0.3<i>00000</i></span><span class="cu">7.947442</span></div>
<div class="bar bb" style="top:790px;width:1px"></div>
<div class="row" style="top:789px"><span class="pr grn">19204.04</span><span class="qt">0.008403<i></i></span><span class="cu">7.955845</span></div>
<div class="bar bb" style="top:810px;width:2px"></div>
<div class="row" style="top:809px"><span class="pr grn">19203.91</span><span class="qt">0.025<i>000</i></span><span class="cu">7.980845</span></div>
<div class="bar bb" style="top:830px;width:31px"></div>
<div class="row" style="top:829px"><span class="pr grn">19203.89</span><span class="qt">0.518<i>000</i></span><span class="cu">8.498845</span></div>
<div class="bar bb" style="top:850px;width:29px"></div>
<div class="row" style="top:849px"><span class="pr grn">19203.81</span><span class="qt">0.5<i>00000</i></span><span class="cu">8.998845</span></div>
<div class="bar bb" style="top:870px;width:182px"></div>
<div class="row" style="top:869px"><span class="pr grn">19203.18</span><span class="qt">3.<i>000000</i></span><span class="cu">11.998845</span></div>
<div class="bar bb" style="top:890px;width:3px"></div>
<div class="row" style="top:889px"><span class="pr grn">19203.15</span><span class="qt">0.0447<i>00</i></span><span class="cu">12.043545</span></div>
<div class="bar bb" style="top:910px;width:91px"></div>
<div class="row" style="top:909px"><span class="pr grn">19203.12</span><span class="qt">1.5<i>00000</i></span><span class="cu">13.543545</span></div>
<div class="bar bb" style="top:930px;width:61px"></div>
<div class="row" style="top:929px"><span class="pr grn">19203.06</span><span class="qt">1.<i>000000</i></span><span class="cu">14.543545</span></div>
<div class="bar bb" style="top:950px;width:29px"></div>
<div class="row" style="top:949px"><span class="pr grn">19202.91</span><span class="qt">0.5<i>00000</i></span><span class="cu">15.043545</span></div>
</div></div>
<div class="abs" style="left:1366px;top:572px;width:5px;height:384px;background:#eceef1"></div>
<div class="abs" style="left:1367px;top:878px;width:10px;height:57px;border-radius:5px;background:#5b5d60"></div>
<svg class="abs" style="left:1369px;top:913px" width="6" height="20"><g fill="#3fdc5a">
<rect x="0" y="0" width="6" height="1.2"/><rect x="0" y="2.5" width="6" height="1.2"/><rect x="0" y="5" width="6" height="1.2"/><rect x="0" y="7.5" width="6" height="1.2"/><rect x="0" y="10" width="6" height="1.2"/><rect x="0" y="12.5" width="6" height="1.2"/><rect x="0" y="15" width="6" height="1.2"/><rect x="0" y="17.5" width="6" height="1.2"/></g></svg>
<!-- collapse handles -->
<div class="abs" style="left:1104px;top:450px;width:6px;height:38px;background:#e3e6ea"></div>
<div class="abs" style="left:1105px;top:465px;width:0;height:0;border-top:4px solid transparent;border-bottom:4px solid transparent;border-left:4px solid #a3a8b0"></div>
<!-- red annotation -->
<div class="abs" style="left:1083px;top:498px;width:203px;height:74px;border:3px solid #f61a1a;border-radius:4px"></div>
<!-- status bar right -->
<svg class="abs" style="left:1125px;top:967px" width="20" height="16" viewBox="0 0 20 16" fill="none" stroke="#3a3f47" stroke-width="1.4"><path d="M1.5 6a12 12 0 0 1 17 0M4.5 9a8 8 0 0 1 11 0M7.3 11.8a4 4 0 0 1 5.4 0"/><circle cx="10" cy="14.3" r="1.1" fill="#3a3f47" stroke="none"/></svg>
<div class="abs" style="left:1150px;top:970px;font-size:12px;line-height:14px;color:#3a3f47;white-space:nowrap">线路1: <span style="color:#52b283">50ms</span></div>
<svg class="abs" style="left:1240px;top:968px" width="15" height="15" viewBox="0 0 15 15" fill="none" stroke="#3a3f47" stroke-width="1.2"><circle cx="7.5" cy="7.5" r="6.5"/><path d="M7.5 3.5v4h3"/></svg>
<div class="abs" style="left:1262px;top:970px;font-size:12px;line-height:14px;color:#3a3f47;white-space:nowrap">HK 12-15 18:28:47</div>
</body></html>
